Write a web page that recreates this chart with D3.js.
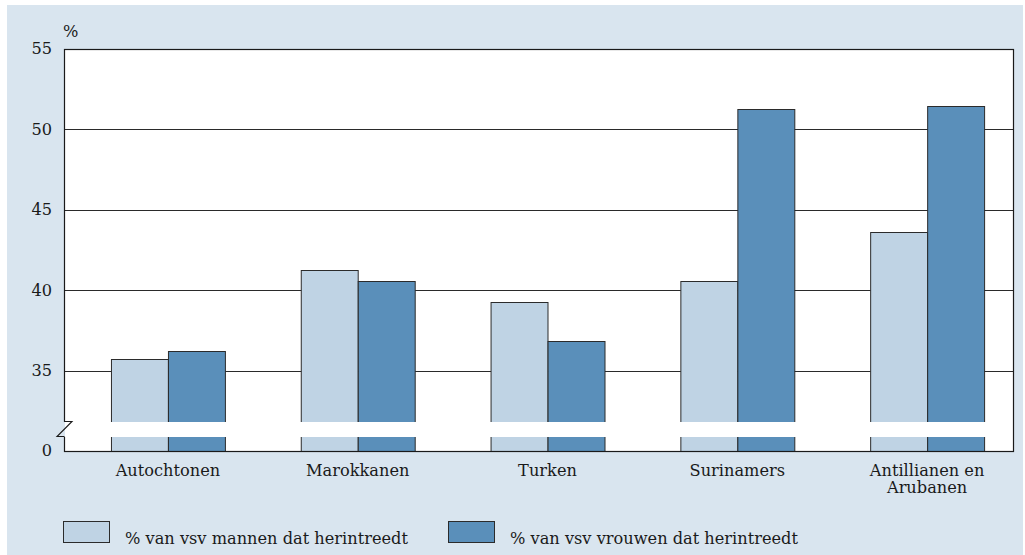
<!DOCTYPE html>
<html>
<head>
<meta charset="utf-8">
<script src="https://cdn.jsdelivr.net/npm/d3@7"></script>
<style>
  html, body { margin: 0; padding: 0; background: #ffffff; }
  svg { display: block; }
  text { font-family: "DejaVu Serif", serif; fill: #1a1a1a; }
</style>
</head>
<body>
<svg id="chart" width="1025" height="555"></svg>
<script>
// Herintreding per herkomstgroep (% van voortijdig schoolverlaters)
const categories = [["Autochtonen"], ["Marokkanen"], ["Turken"], ["Surinamers"], ["Antillianen en", "Arubanen"]];
const seriesNames = ["% van vsv mannen dat herintreedt", "% van vsv vrouwen dat herintreedt"];
const mannen = [35.7, 41.25, 39.25, 40.55, 43.6];
const vrouwen = [36.2, 40.55, 36.85, 51.25, 51.45];
const tickValues = [30, 35, 40, 45, 50, 55];
const tickLabels = ["0", "35", "40", "45", "50", "55"];
const gridValues = [35, 40, 45, 50];
const unitLabel = "%";

const colors = ["#bfd3e4", "#5a8fba"];
const bg = "#d9e5ef";
const fontSize = 16.2;

const svg = d3.select("#chart");

// panel background
svg.append("rect").attr("x", 7).attr("y", 5).attr("width", 1016).attr("height", 550).attr("fill", bg);

const plot = { left: 64, right: 1013, top: 49, bottom: 451 };

const catKeys = categories.map(c => c.join(" "));
const x = d3.scaleBand().domain(catKeys).range([73, 1022]).paddingInner(0.4).paddingOuter(0.2);
const xSub = d3.scaleBand().domain([0, 1]).range([0, x.bandwidth()]);
const y = d3.scaleLinear().domain([30, 55]).range([plot.bottom, plot.top]);

// plot area
svg.append("rect")
  .attr("x", plot.left).attr("y", plot.top)
  .attr("width", plot.right - plot.left).attr("height", plot.bottom - plot.top)
  .attr("fill", "#ffffff");

// gridlines
svg.append("g").selectAll("line").data(gridValues).join("line")
  .attr("x1", plot.left).attr("x2", plot.right)
  .attr("y1", d => Math.round(y(d)) + 0.5).attr("y2", d => Math.round(y(d)) + 0.5)
  .attr("stroke", "#2a2a2a").attr("stroke-width", 1);

// bars
const rows = catKeys.map((k, i) => ({ key: k, values: [mannen[i], vrouwen[i]] }));
const groups = svg.append("g").selectAll("g").data(rows).join("g")
  .attr("transform", d => `translate(${x(d.key)},0)`);
groups.selectAll("rect").data(d => d.values.map((v, j) => ({ v, j }))).join("rect")
  .attr("x", d => Math.round(xSub(d.j)) + 0.5)
  .attr("width", xSub.bandwidth())
  .attr("y", d => Math.round(y(d.v)) + 0.5)
  .attr("height", d => y(30) - Math.round(y(d.v)))
  .attr("fill", d => colors[d.j])
  .attr("stroke", "#2b2b2b").attr("stroke-width", 1);

// frame
svg.append("rect")
  .attr("x", plot.left + 0.5).attr("y", plot.top + 0.5)
  .attr("width", plot.right - plot.left).attr("height", plot.bottom - plot.top)
  .attr("fill", "none").attr("stroke", "#1a1a1a").attr("stroke-width", 1.2);

// axis break band
const breakTop = 422, breakBottom = 437;
svg.append("rect")
  .attr("x", plot.left - 1).attr("y", breakTop)
  .attr("width", plot.right - plot.left + 3).attr("height", breakBottom - breakTop)
  .attr("fill", "#ffffff");
svg.append("rect")
  .attr("x", plot.left - 3).attr("y", breakTop)
  .attr("width", 4).attr("height", breakBottom - breakTop)
  .attr("fill", bg);
svg.append("rect")
  .attr("x", plot.right + 1).attr("y", breakTop)
  .attr("width", 3).attr("height", breakBottom - breakTop)
  .attr("fill", bg);
svg.append("path")
  .attr("d", `M${plot.left + 0.5},${breakTop - 0.5} L${plot.left + 8},${breakTop - 0.5} L${plot.left - 7},${breakBottom - 0.5} L${plot.left + 0.5},${breakBottom - 0.5}`)
  .attr("fill", "none").attr("stroke", "#1a1a1a").attr("stroke-width", 1.1);
svg.append("line")
  .attr("x1", plot.right + 0.5).attr("x2", plot.right + 0.5)
  .attr("y1", breakTop).attr("y2", breakBottom)
  .attr("stroke", "#1a1a1a").attr("stroke-width", 1.2);

// y axis labels
const yAxis = d3.axisLeft(y).tickValues(tickValues)
  .tickFormat(d => tickLabels[tickValues.indexOf(d)]).tickSize(0).tickPadding(12);
const yg = svg.append("g").attr("transform", `translate(${plot.left},0)`).call(yAxis);
yg.select(".domain").remove();
yg.selectAll("text").attr("font-family", "DejaVu Serif").attr("font-size", fontSize).attr("fill", "#1a1a1a").attr("dy", "0.3em");

svg.append("text").attr("x", 63).attr("y", 37).attr("font-size", fontSize).text(unitLabel);

// category labels
const xg = svg.append("g");
categories.forEach((lines, i) => {
  const cx = x(catKeys[i]) + x.bandwidth() / 2;
  lines.forEach((ln, k) => {
    xg.append("text")
      .attr("x", cx)
      .attr("y", 476 + k * 17)
      .attr("text-anchor", "middle")
      .attr("font-size", fontSize)
      .text(ln);
  });
});

// legend
const legendX = [63, 448];
seriesNames.forEach((name, i) => {
  svg.append("rect")
    .attr("x", legendX[i] + 0.5).attr("y", 521.5).attr("width", 46).attr("height", 21)
    .attr("fill", colors[i]).attr("stroke", "#2b2b2b").attr("stroke-width", 1);
  svg.append("text")
    .attr("x", legendX[i] + 62).attr("y", 544)
    .attr("font-size", fontSize).text(name);
});
</script>
</body>
</html>
